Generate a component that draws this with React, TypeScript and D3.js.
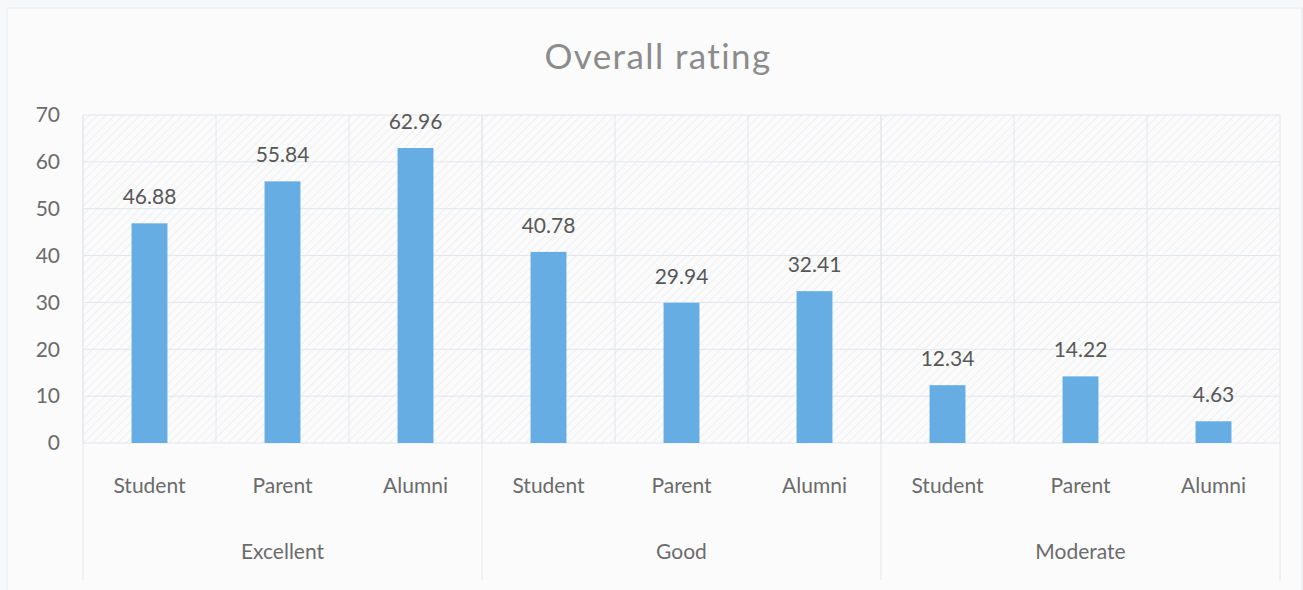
import React from "react";
import * as d3 from "d3";

const groups = ["Excellent", "Good", "Moderate"];
const respondents = ["Student", "Parent", "Alumni"];
const values = [46.88, 55.84, 62.96, 40.78, 29.94, 32.41, 12.34, 14.22, 4.63];
const valueLabels = ["46.88", "55.84", "62.96", "40.78", "29.94", "32.41", "12.34", "14.22", "4.63"];
const yTicks = [0, 10, 20, 30, 40, 50, 60, 70];
const title = "Overall rating";

const W = 1303;
const H = 590;
const left = 83;
const right = 1280;
const top = 115;
const bottom = 443;
const axisBottom = 580;
const font = "Lato, 'Open Sans', sans-serif";
const textColor = "#6b6b6b";
const gridColor = "#e3e6ea";
const barColor = "#65ade2";

export default function App() {
  const cats = values.map((_, i) => `${i}`);
  const x = d3.scaleBand<string>().domain(cats).range([left, right]).paddingInner(0).paddingOuter(0);
  const y = d3.scaleLinear().domain([0, 70]).range([bottom, top]);
  const bw = x.bandwidth();
  const barW = bw * 0.27;
  const gx = d3.scaleBand<string>().domain(groups).range([left, right]);

  return (
    <svg width={W} height={H} style={{ position: "absolute", left: 0, top: 0, background: "#f7f8fa" }}>
      <defs>
        <pattern id="hatch" patternUnits="userSpaceOnUse" width="6" height="6" patternTransform="rotate(45)">
          <line x1="0" y1="0" x2="0" y2="6" stroke="#e6e8ec" strokeWidth="1.2" />
        </pattern>
      </defs>
      <rect x={7} y={8} width={W - 8} height={H} fill="#fbfbfc" stroke="#e8e9ec" />
      <rect x={left} y={top} width={right - left} height={bottom - top} fill="url(#hatch)" />
      <text x={658} y={69} textAnchor="middle" fontFamily={font} fontSize={35} letterSpacing={1.4} fill="#8c8c8c">
        {title}
      </text>
      {yTicks.map((t) => (
        <g key={t}>
          <line x1={left} x2={right} y1={y(t)} y2={y(t)} stroke={gridColor} strokeWidth={1} />
          <text x={60} y={y(t)} dy="0.35em" textAnchor="end" fontFamily={font} fontSize={21} fill={textColor}>
            {t}
          </text>
        </g>
      ))}
      {cats.map((c) => (
        <line key={"v" + c} x1={x(c)!} x2={x(c)!} y1={top} y2={bottom} stroke={gridColor} />
      ))}
      <line x1={right} x2={right} y1={top} y2={axisBottom} stroke={gridColor} />
      {groups.map((g) => (
        <line key={"gs" + g} x1={gx(g)!} x2={gx(g)!} y1={top} y2={axisBottom} stroke={gridColor} />
      ))}
      {values.map((v, i) => {
        const cx = x(cats[i])! + bw / 2;
        return (
          <g key={"b" + i}>
            <rect x={cx - barW / 2} y={y(v)} width={barW} height={y(0) - y(v)} fill={barColor} />
            <text x={cx} y={y(v) - 19} textAnchor="middle" fontFamily={font} fontSize={21} fill="#575757">
              {valueLabels[i]}
            </text>
            <text x={cx} y={486} dy="0.35em" textAnchor="middle" fontFamily={font} fontSize={21} fill={textColor}>
              {respondents[i % 3]}
            </text>
          </g>
        );
      })}
      {groups.map((g) => (
        <text key={"gl" + g} x={gx(g)! + gx.bandwidth() / 2} y={552} dy="0.35em" textAnchor="middle" fontFamily={font} fontSize={21} fill={textColor}>
          {g}
        </text>
      ))}
    </svg>
  );
}
